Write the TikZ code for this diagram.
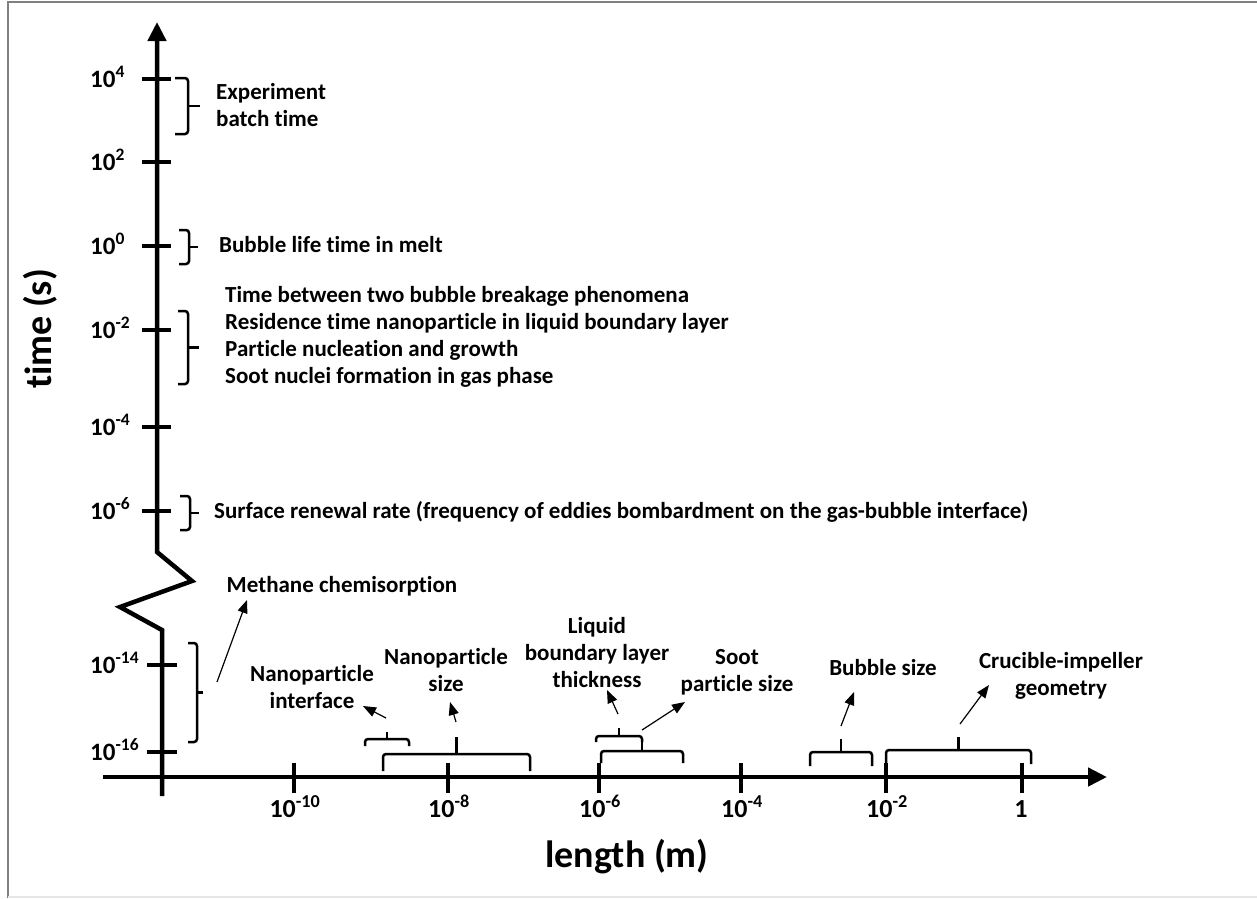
\documentclass[tikz,border=0pt]{standalone}
\usepackage{fontspec}
\setmainfont{Carlito}[Ligatures=NoCommon]
\usetikzlibrary{arrows.meta}
\begin{document}
\begin{tikzpicture}[x=1pt,y=-1pt,
    every node/.style={font=\bfseries\fontsize{23}{27}\selectfont, inner sep=0pt},
    axis/.style={line width=4.5pt, line join=miter},
    tick/.style={line width=4pt},
    bracket/.style={line width=2.5pt, rounded corners=3pt},
    pointer/.style={line width=1.2pt, -{Triangle[length=13pt,width=10pt]}},
    ticklabel/.style={font=\bfseries\fontsize{25}{29}\selectfont},
    xticklabel/.style={font=\bfseries\fontsize{26}{30}\selectfont},
    axislabel/.style={font=\bfseries\fontsize{38}{42}\selectfont}]
  % Frame
  \useasboundingbox (0,0) rectangle (1257,898);
  \draw[gray, line width=2pt] (8,898) -- (8,2) -- (1257,2);
  \draw[gray!20, line width=1.5pt] (8,897) -- (1257,897);
  % Axes (time axis with a break)
  \draw[axis, -{Triangle[length=19pt,width=18pt]}] (162,796) -- (162,630) -- (120,607) -- (192,581) -- (157,552) -- (157,22);
  \draw[axis, -{Triangle[length=19pt,width=18pt]}] (103,777) -- (1107,777);
  % Axis labels
  \node[axislabel, rotate=90] (tlabel) at (40,329) {time (s)};
  \node[axislabel] (llabel) at (627,857) {length (m)};
  % Time ticks
  \foreach \y/\lab in {79/4, 162/2, 246/0, 330/-2, 427/-4, 511/-6} {
    \draw[tick] (142,\y) -- (171,\y);
    \node[ticklabel, anchor=base west] (t\lab) at (90,{\y+8}) {10\textsuperscript{\lab}};
  }
  \foreach \y/\lab in {665/-14, 752/-16} {
    \draw[tick] (147,\y) -- (177,\y);
    \node[ticklabel, anchor=base west] (t\lab) at (90,{\y+8}) {10\textsuperscript{\lab}};
  }
  % Length ticks
  \foreach \x/\lab in {294/-10, 448/-8, 599/-6, 741/-4, 886/-2} {
    \draw[tick] (\x,763) -- (\x,793);
    \node[xticklabel, anchor=base] (l\lab) at ({\x+1},817) {10\textsuperscript{\lab}};
  }
  \draw[tick] (1022,763) -- (1022,793);
  \node[xticklabel, anchor=base] (l0) at (1021,817) {1};
  % Time brackets
  \foreach \a/\b/\c/\d/\e in {175/188/200/78/134, 179/189/198/230/264, 178/188/199/311/384, 180/190/199/496/530, 188/197/203/643/742} {
    \draw[bracket] (\a,\d) -- (\b,\d) -- (\b,\e) -- (\a,\e);
    \draw[bracket] (\b,{(\d+\e)/2}) -- (\c,{(\d+\e)/2});
  }
  % Length brackets
  \foreach \a/\b/\c/\d/\e in {365/409/739/746/732, 383/530/754/771/737, 596/642/736/742/728, 601/683/751/763/740, 810/872/752/766/739, 886/1031/750/764/737} {
    \draw[bracket] (\a,\d) -- (\a,\c) -- (\b,\c) -- (\b,\d);
    \draw[bracket] ({(\a+\b)/2},\c) -- ({(\a+\b)/2},\e);
  }
  % Time scale phenomena
  \node[anchor=west, align=left] (batch) at (216,105) {Experiment\\batch time};
  \node[anchor=west] (lifetime) at (219,245) {Bubble life time in melt};
  \node[anchor=west, align=left] (fast) at (225,337) {Time between two bubble breakage phenomena\\Residence time nanoparticle in liquid boundary layer\\Particle nucleation and growth\\Soot nuclei formation in gas phase};
  \node[anchor=west] (renewal) at (214,512) {Surface renewal rate (frequency of eddies bombardment on the gas-bubble interface)};
  \node (methane) at (342,586) {Methane chemisorption};
  % Length scale phenomena
  \node[align=center] (interface) at (312,687) {Nanoparticle\\interface};
  \node[align=center] (npsize) at (446,670) {Nanoparticle\\size};
  \node[align=center] (boundary) at (597,652) {Liquid\\boundary layer\\thickness};
  \node[align=center] (soot) at (737,672) {Soot\\particle size};
  \node (bubble) at (883,667) {Bubble size};
  \node[align=center] (crucible) at (1061,676) {Crucible-impeller\\geometry};
  % Pointers
  \coordinate (methane-from) at (217,682);
  \coordinate (methane-to) at (247,600);
  \coordinate (interface-from) at (386,718);
  \coordinate (interface-to) at (363,706);
  \coordinate (npsize-from) at (456,722);
  \coordinate (npsize-to) at (450,702);
  \coordinate (boundary-from) at (618,714);
  \coordinate (boundary-to) at (607,690);
  \coordinate (soot-from) at (642,730);
  \coordinate (soot-to) at (685,702);
  \coordinate (bubble-from) at (841,726);
  \coordinate (bubble-to) at (854,692);
  \coordinate (crucible-from) at (960,724);
  \coordinate (crucible-to) at (989,685);
  \foreach \n in {methane, interface, npsize, boundary, soot, bubble, crucible}
    \draw[pointer] (\n-from) -- (\n-to);
\end{tikzpicture}
\end{document}
